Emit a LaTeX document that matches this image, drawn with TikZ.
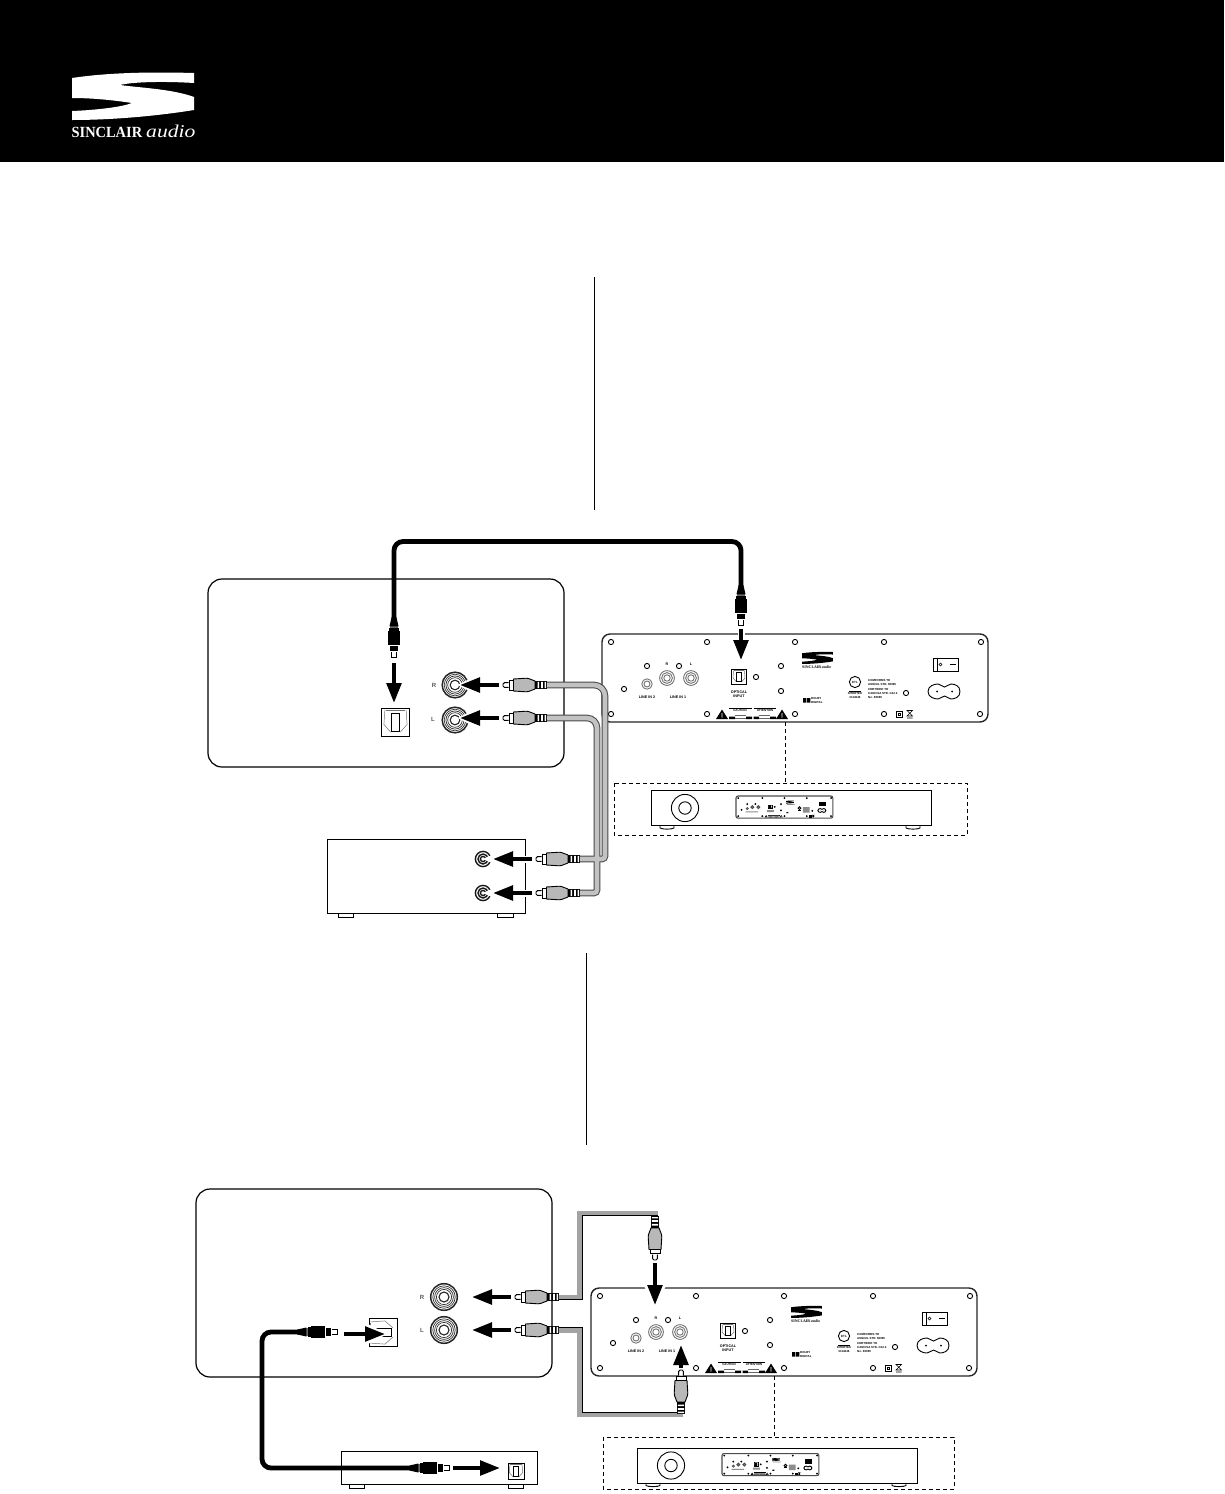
\documentclass[tikz,border=0pt]{standalone}
\usepackage{fontspec}
\setmainfont{Liberation Sans}
\newfontfamily\logofont{Liberation Serif}
\usetikzlibrary{arrows.meta}
\newcommand\tinylab{\fontsize{3.7}{4.3}\selectfont\bfseries}
\newcommand\micro{\fontsize{2.9}{4.3}\selectfont\bfseries}
\tikzset{
  devbox/.style={draw=black,line width=1.2pt,fill=white,inner sep=0pt,rounded corners=14pt},
  plainbox/.style={draw=black,line width=1pt,fill=white,inner sep=0pt},
  farrow/.style={line width=4pt,black,-{Triangle[length=20pt,width=14.5pt]},
    preaction={draw,white,line width=7pt,-{Triangle[length=25pt,width=23pt]},shorten >=-3pt}},
  optcable/.style={line width=4.8pt,black,rounded corners=9pt},
  rcaout/.style={line width=6.6pt,color=black!72},
  rcain/.style={line width=4.6pt,color=black!24},
  rcaband/.style={line width=5pt,color=black!36},
  rcaedge/.style={line width=1pt,color=black},
  dashline/.style={line width=.9pt,dash pattern=on 4pt off 3pt},
  panline/.style={line width=1pt,black},
  panedge/.style={line width=1.4pt,black!85,rounded corners=8pt},
  panhole/.style={line width=.9pt,black},
  panjack/.style={line width=.9pt,black!55},
  lab/.style={inner sep=0pt,align=center,font=\tinylab},
  labl/.style={inner sep=0pt,align=left,anchor=west,font=\micro},
  sidelab/.style={inner sep=0pt,font=\fontsize{6}{7}\selectfont\bfseries,text=black!65},
}
% S logo, top-left corner at origin
\newcommand\slogoshape{%
  (0,5) .. controls (40,-1) and (85,-1) .. (122,0) -- (122,10)
  .. controls (90,8) and (60,9) .. (48,12)
  .. controls (70,15) and (100,16) .. (122,24) -- (122,37)
  .. controls (85,43) and (40,47) .. (0,47) -- (0,38)
  .. controls (25,37) and (50,34) .. (60,30)
  .. controls (40,27) and (20,25) .. (0,25) -- cycle}
% RCA plug: tip at origin, body along +x
\newcommand\rcaplug[3]{\begin{scope}[shift={(#1,#2)},rotate=#3]
  \draw[line width=.9pt,fill=white,rounded corners=1.5pt] (5.5,-2.4) -- (0,-2.4) -- (0,2.4) -- (5.5,2.4);
  \draw[line width=.9pt,fill=white] (6.5,-5) rectangle (10.5,5);
  \draw[line width=.9pt,fill=black!28] (10.5,-6) -- (23,-6.8) .. controls (27,-6.8) and (29,-4.5) .. (32,-4)
     -- (32,4) .. controls (29,4.5) and (27,6.8) .. (23,6.8) -- (10.5,6) -- cycle;
  \fill[black] (32,-4.2) rectangle (44,4.2);
  \fill[white] (34.5,-3.2) rectangle (36.2,3.2) (38.2,-3.2) rectangle (39.9,3.2) (41.6,-3.2) rectangle (43,3.2);
\end{scope}}
% Optical plug: tip at origin, body along +x
\newcommand\optplug[3]{\begin{scope}[shift={(#1,#2)},rotate=#3]
  \draw[line width=.8pt,fill=white] (5.7,-2.7) -- (0.4,-2.7) -- (0.4,2.7) -- (5.7,2.7);
  \fill[black] (6.7,-3.7) rectangle (11.7,3.7);
  \fill[black] (13.3,-6) rectangle (26.7,6);
  \fill[black] (27.3,-5.3) rectangle (30,5.3);
  \fill[black!60] (30,-4.4) rectangle (31.7,4.4);
  \fill[black] (31.7,-4.5) -- (41,-2.4) -- (41,2.4) -- (31.7,4.5) -- cycle;
\end{scope}}
% Optical jack, centred, #3 = side, #4 = rotation
\newcommand\optjack[4]{\begin{scope}[shift={(#1,#2)},rotate=#4,scale=#3/29]
  \draw[line width=.9pt,fill=white] (-14.5,-14.5) rectangle (14.5,14.5);
  \draw[line width=.5pt,black!55] (-11,-13) -- (-12,2) -- (-5,10) (11,-13) -- (12,2) -- (5,10);
  \draw[line width=.6pt,black!55] (-10,-13) -- (10,-13);
  \draw[line width=1pt] (-4.6,-9) rectangle (4.6,9);
\end{scope}}
% concentric RCA jack on receiver
\newcommand\bigjack[3]{\begin{scope}[shift={(#1,#2)},scale=#3/14]
  \fill[white] (0,0) circle (14);
  \draw[line width=1.5pt,black!85] (0,0) circle (13.3);
  \foreach \r in {11.2,9.4,7.6}{\draw[line width=.7pt,black!80] (0,0) circle (\r);}
  \draw[line width=1.1pt,black!85] (0,0) circle (5);
\end{scope}}
\newcommand\smalljack[2]{\begin{scope}[shift={(#1,#2)}]
  \foreach \r in {7.6,5,2.6}{\draw[line width=1.4pt,black!90] (0,0) circle (\r);}
  \fill[white] (0,0) -- (11,-5) -- (11,5) -- cycle;
\end{scope}}
% back panel shapes, coordinates of the first panel
\newcommand\panelshapes{%
  \draw[panedge,fill=white] (602,634) rectangle (988,722);
  \foreach \a/\b in {611/642,707/642,795/642,884/642,981/642,647/666,679/666,781/666,756/677,624/689,781/691,611/714,707/714,795/714,884/714,980/714,906/693}
    {\draw[panhole] (\a,\b) circle (2.6);}
  \draw[panjack] (647,684) circle (5.2) (647,684) circle (3);
  \foreach \a in {667,691}{\draw[panjack] (\a,678) circle (7.4) (\a,678) circle (5.4) (\a,678) circle (3.2);}
  \optjack{739}{677}{14.5}{0}
  \fill[black] (716,719) -- (722,709.5) -- (728,719) -- cycle (776,719) -- (782,709.5) -- (788,719) -- cycle;
  \fill[white] (721.6,713) rectangle (722.4,717.5) (781.6,713) rectangle (782.4,717.5);
  \draw[line width=.5pt] (729,708.5) -- (752,708.5) (753.5,708.5) -- (776,708.5);
  \fill[black] (729,716.5) rectangle (735,719) (746,716.5) rectangle (752,719) (753.5,716.5) rectangle (759,719) (770,716.5) rectangle (776,719);
  \draw[line width=.4pt,black!60] (735,715) -- (746,715) (735,718) -- (746,718) (759,715) -- (770,715) (759,718) -- (770,718);
  \begin{scope}[shift={(802,652)},scale=.254]\fill[black] \slogoshape;\end{scope}
  \draw[line width=.9pt] (855,682) circle (5.6);
  \draw[line width=.8pt] (849,691) -- (861,691);
  \fill[black] (803,698) rectangle (806.3,702.5) (807,698) rectangle (810.3,702.5);
  \draw[panline] (933,658) rectangle (958,671) (937,658) -- (937,671);
  \draw[line width=.6pt] (940.5,664.5) circle (1.5);
  \draw[line width=.9pt] (950,664.5) -- (956,664.5);
  \draw[line width=.9pt] (928,691.5) .. controls (928,686) and (934,684) .. (938,684)
     .. controls (941,684) and (942,687) .. (944.5,687) .. controls (947,687) and (948,684) .. (951,684)
     .. controls (955,684) and (960,686) .. (960,691.5) .. controls (960,697) and (955,699) .. (951,699)
     .. controls (948,699) and (947,696) .. (944.5,696) .. controls (942,696) and (941,699) .. (938,699)
     .. controls (934,699) and (928,697) .. (928,691.5) -- cycle;
  \fill[black] (937,691.5) circle (1) (952,691.5) circle (1);
  \draw[line width=.7pt] (896,711) rectangle (902,717);
  \draw[line width=.5pt] (897.8,712.8) rectangle (900.2,715.2);
  \draw[line width=.6pt] (907,710.5) -- (912.5,710.5) -- (907,716) -- (912.5,716) -- cycle (907,718) -- (912.5,718);
}
\newcommand\panellabels{%
  \node[lab] (r) at (667,664) {R};
  \node[lab] (l) at (691,664) {L};
  \node[lab] (li2) at (647,697) {LINE IN 2};
  \node[lab] (li1) at (678,697) {LINE IN 1};
  \node[lab] (opt) at (739,694.5) {OPTICAL\\INPUT};
  \node[lab,font=\micro] (cau) at (740,710.6) {CAUTION};
  \node[lab,font=\micro] (att) at (765,710.6) {ATTENTION};
  \node[labl,font=\fontsize{3.9}{4}\selectfont\bfseries] (brand) at (802,667.5) {\logofont SINCLAIR\,\textit{audio}};
  \node[labl] (db) at (811,700.2) {DOLBY\\DIGITAL};
  \node[lab,font=\fontsize{3}{3}\selectfont\bfseries] (etl) at (855,682) {ETL};
  \node[lab,font=\micro] (cert) at (855,695.5) {INTERTEK\\3114646};
  \node[labl] (conf) at (868,689) {COMFORMS TO\\ANSI/UL STD. 60065\\CERTIFIED TO\\CAN/CSA STD. C22.2\\No. 60065};
}
% small amplifier front, coordinates of the first one
\newcommand\ampshapes{%
  \draw[line width=.9pt,fill=white] (660,825) -- (660,828) .. controls (662,829.5) and (672,829.5) .. (674,828) -- (674,825);
  \draw[line width=.9pt,fill=white] (906,825) -- (906,828) .. controls (908,829.5) and (918,829.5) .. (920,828) -- (920,825);
  \draw[line width=.9pt,fill=white] (651,790.5) rectangle (931,825.5);
  \draw[line width=.9pt] (685,808) circle (13.6) (685,808) circle (6.2);
  \begin{scope}[shift={(584.9,636.9)},scale=.251,
      panedge/.style={line width=1.1pt,black!70,rounded corners=2pt},
      panhole/.style={line width=.5pt,black,fill=black!70},
      panjack/.style={line width=.4pt,black!70},
      panline/.style={line width=.4pt,black,fill=black}]
    \panelshapes
    \fill[black!45] (725,690) rectangle (753,698) (805,666) rectangle (835,669) (868,678) rectangle (895,700)
        (730,712) rectangle (775,716) (640,695) rectangle (690,699);
  \end{scope}
}
\begin{document}
\begin{tikzpicture}[x=1pt,y=-1pt]
\useasboundingbox (0,0) rectangle (1224,1494);
\fill[black] (0,0) rectangle (1224,162);
% logo
\begin{scope}[shift={(72,73)}]\fill[white] \slogoshape;\end{scope}
\node[anchor=base west,inner sep=0pt,text=white,xscale=.93,font=\logofont\bfseries\fontsize{15.5}{16}\selectfont] (brandword) at (71.5,137) {SINCLAIR};
\node[anchor=base west,inner sep=0pt,text=white,xscale=1.2,font=\logofont\itshape\fontsize{18}{18}\selectfont] (brandaudio) at (146,137) {audio};
% column rules
\coordinate (ruleAt) at (594.5,277); \coordinate (ruleAb) at (594.5,510);
\coordinate (ruleBt) at (586.5,953); \coordinate (ruleBb) at (586.5,1145);
\draw[line width=1pt] (ruleAt) -- (ruleAb);
\draw[line width=1pt] (ruleBt) -- (ruleBb);

%%%%%%%%%%%%% first diagram
\node[devbox,minimum width=356pt,minimum height=188pt] (recvA) at (386,673) {};
\node[sidelab] (recvAr) at (434,685) {R};
\node[sidelab] (recvAl) at (433,719) {L};
\bigjack{455}{685}{13.5}
\bigjack{455}{720}{13.5}
\optjack{395.5}{722.5}{28}{0}
\node[plainbox,minimum width=198pt,minimum height=74pt] (subA) at (426,876) {};
\draw[line width=1pt,fill=white] (338,913) rectangle (353,917) (497,913) rectangle (513,917);
\smalljack{483}{859}
\smalljack{483}{893}
% panel 1
\panelshapes
\begin{scope}[name prefix=pa-]\panellabels\end{scope}
% dashed + amp
\coordinate (dashAt) at (785,722); \coordinate (dashAb) at (785,783);
\draw[dashline] (dashAt) -- (dashAb);
\draw[dashline] (614,783) rectangle (967,835);
\ampshapes
% grey cables
\coordinate (rA1) at (546,685); \coordinate (rA2) at (605,859); \coordinate (rA3) at (579,859);
\coordinate (lA1) at (546,718); \coordinate (lA2) at (597,893); \coordinate (lA3) at (579,893);
\draw[rcaout] (lA3) [rounded corners=3pt] -- (lA2) [rounded corners=10pt] -- (597,718) -- (lA1);
\draw[rcaout] (rA3) [rounded corners=3pt] -- (rA2) [rounded corners=11pt] -- (605,685) -- (rA1);
\draw[rcain] (lA3) [rounded corners=3pt] -- (lA2) [rounded corners=10pt] -- (597,718) -- (lA1);
\draw[rcain] (rA3) [rounded corners=3pt] -- (rA2) [rounded corners=11pt] -- (605,685) -- (rA1);
% plugs & arrows
\rcaplug{503}{685}{0}
\rcaplug{503}{718}{0}
\rcaplug{536}{859}{0}
\rcaplug{536}{893}{0}
\coordinate (a1s) at (499,685); \coordinate (a1e) at (460,685);
\coordinate (a2s) at (499,718); \coordinate (a2e) at (460,718);
\coordinate (a3s) at (532,859); \coordinate (a3e) at (493,859);
\coordinate (a4s) at (532,893); \coordinate (a4e) at (493,893);
\draw[farrow] (a1s) -- (a1e);
\draw[farrow] (a2s) -- (a2e);
\draw[farrow] (a3s) -- (a3e);
\draw[farrow] (a4s) -- (a4e);
% optical cable 1
\coordinate (oA1) at (394,618); \coordinate (oA2) at (741,586);
\draw[optcable] (oA1) -- (394,541.5) -- (741,541.5) -- (oA2);
\optplug{394}{658}{90}
\optplug{741}{626}{90}
\coordinate (a5s) at (394,663); \coordinate (a5e) at (394,703);
\coordinate (a6s) at (741,629); \coordinate (a6e) at (741,660);
\draw[farrow] (a5s) -- (a5e);
\draw[farrow] (a6s) -- (a6e);

%%%%%%%%%%%%% second diagram
\node[devbox,minimum width=356pt,minimum height=188pt] (recvB) at (374,1283) {};
\node[sidelab] (recvBr) at (422,1297) {R};
\node[sidelab] (recvBl) at (422,1330) {L};
\bigjack{444}{1297}{14}
\bigjack{444}{1330}{14}
\optjack{383}{1332.5}{28}{90}
\node[plainbox,minimum width=196pt,minimum height=33pt] (subB) at (439,1467.5) {};
\draw[line width=1pt,fill=white] (349,1484) rectangle (364,1488) (508,1484) rectangle (523,1488);
\optjack{516}{1471.5}{16}{0}
\begin{scope}[shift={(-11,654)}]
  \panelshapes
  \begin{scope}[name prefix=pb-]\panellabels\end{scope}
  \coordinate (dashBt) at (785,722); \coordinate (dashBb) at (785,783);
  \draw[dashline] (dashBt) -- (dashBb);
  \draw[dashline] (614,783) rectangle (965,835);
\end{scope}
\begin{scope}[shift={(-14,657.5)}]\ampshapes\end{scope}
% grey cables
\coordinate (rB1) at (558,1297); \coordinate (rB2) at (658,1213);
\coordinate (lB1) at (558,1330); \coordinate (lB2) at (683,1414.5);
\draw[rcaband] (rB1) -- (579.5,1297) -- (579.5,1213) -- (rB2);
\draw[rcaedge] (558,1299.5) -- (582.5,1299.5) -- (582.5,1215.5) -- (658,1215.5);
\draw[rcaband] (lB1) -- (579.5,1330) -- (579.5,1414.5) -- (lB2);
\draw[rcaedge] (558,1327.5) -- (582.5,1327.5) -- (582.5,1412) -- (683,1412);
\rcaplug{515}{1297}{0}
\rcaplug{515}{1330}{0}
\coordinate (b1s) at (511,1297); \coordinate (b1e) at (472,1297);
\coordinate (b2s) at (511,1330); \coordinate (b2e) at (472,1330);
\draw[farrow] (b1s) -- (b1e);
\draw[farrow] (b2s) -- (b2e);
\coordinate (b3s) at (655,1263); \coordinate (b3e) at (655,1305);
\draw[farrow] (b3s) -- (b3e);
\rcaplug{655}{1260}{90}
\coordinate (b4s) at (681,1367.5); \coordinate (b4e) at (681,1345);
\draw[farrow] (b4s) -- (b4e);
\fill[white] (673,1368) rectangle (689,1370);
\rcaplug{681}{1370}{-90}
% optical cable 2
\coordinate (oB1) at (298,1332); \coordinate (oB2) at (409,1468);
\draw[optcable] (oB1) -- (262,1332) -- (262,1468) -- (oB2);
\optplug{338}{1332}{180}
\optplug{450}{1468}{180}
\coordinate (b5s) at (344,1334); \coordinate (b5e) at (385,1334);
\coordinate (b6s) at (453,1468); \coordinate (b6e) at (500,1468);
\draw[farrow] (b5s) -- (b5e);
\draw[farrow] (b6s) -- (b6e);
\end{tikzpicture}
\end{document}
